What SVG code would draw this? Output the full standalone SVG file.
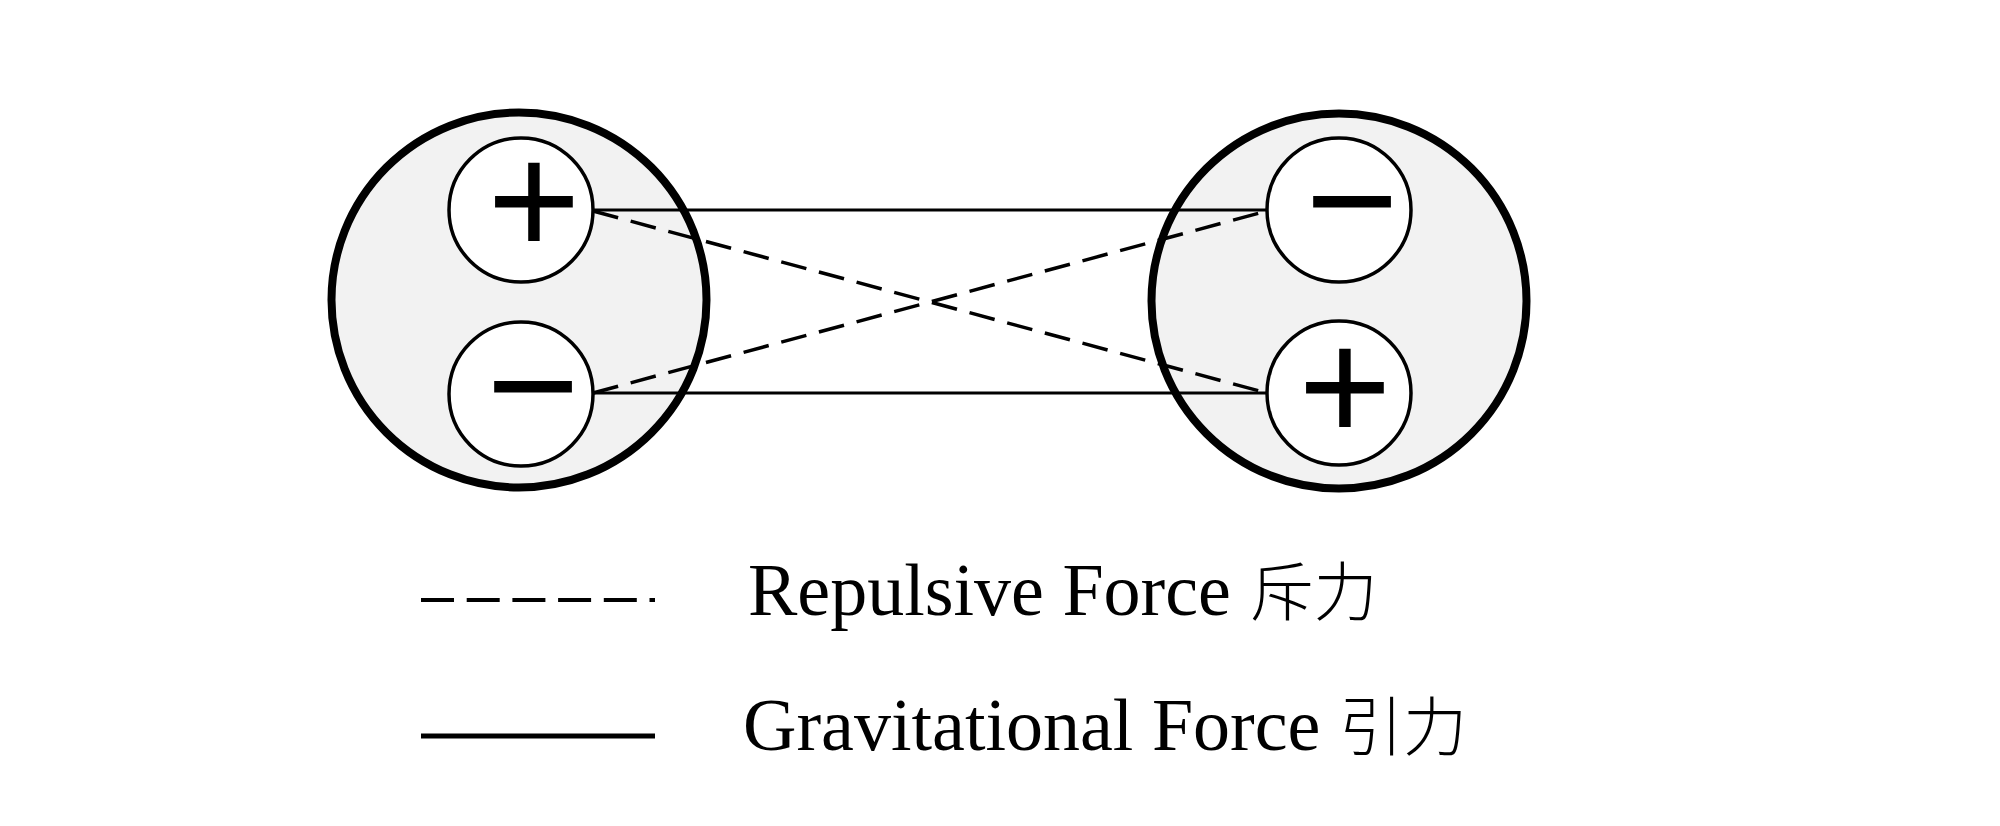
<svg xmlns="http://www.w3.org/2000/svg" width="2000" height="826" viewBox="0 0 2000 826">
<style>
.big{fill:#f2f2f2;stroke:#000;stroke-width:8}
.small{fill:#fff;stroke:#000;stroke-width:3.5}
.sign{font-family:"Liberation Sans",Arial,sans-serif;font-size:160px;fill:#000;text-anchor:middle}
.solid{stroke:#000;stroke-width:3;fill:none}
.dash{stroke:#000;stroke-width:3.5;fill:none;stroke-dasharray:26 13}
.lab{font-family:"Liberation Serif","Times New Roman",serif;font-size:74px;fill:#000}
.cjk{font-family:"Noto Sans CJK SC",sans-serif;font-size:64px;font-weight:300}
</style>
<rect width="2000" height="826" fill="#fff"/>
<g id="atom-left">
<circle class="big" cx="519" cy="300" r="187.5"/>
</g>
<g id="atom-right">
<circle class="big" cx="1339" cy="301" r="187.5"/>
</g>
<g id="left-plus">
<circle class="small" cx="521" cy="210" r="72"/>
<text class="sign" x="534" y="255">+</text>
</g>
<g id="left-minus">
<circle class="small" cx="521" cy="394" r="72"/>
<text class="sign" x="533" y="440">−</text>
</g>
<g id="right-minus">
<circle class="small" cx="1339" cy="210" r="72"/>
<text class="sign" x="1352" y="255">−</text>
</g>
<g id="right-plus">
<circle class="small" cx="1339" cy="393" r="72"/>
<text class="sign" x="1345" y="441">+</text>
</g>
<g id="connectors">
<line class="solid" x1="593" y1="210" x2="1267" y2="210"/>
<line class="solid" x1="593" y1="393" x2="1267" y2="393"/>
<line class="dash" x1="593" y1="211" x2="1267" y2="393"/>
<line class="dash" x1="593" y1="393" x2="1267" y2="211"/>
</g>
<g id="legend">
<line x1="421" y1="600" x2="655" y2="600" stroke="#000" stroke-width="4" stroke-dasharray="33 12.7"/>
<line x1="421" y1="736" x2="655" y2="736" stroke="#000" stroke-width="5"/>
<text class="lab" x="748" y="615">Repulsive Force <tspan class="cjk">斥力</tspan></text>
<text class="lab" x="743" y="750">Gravitational Force <tspan class="cjk">引力</tspan></text>
</g>
</svg>
